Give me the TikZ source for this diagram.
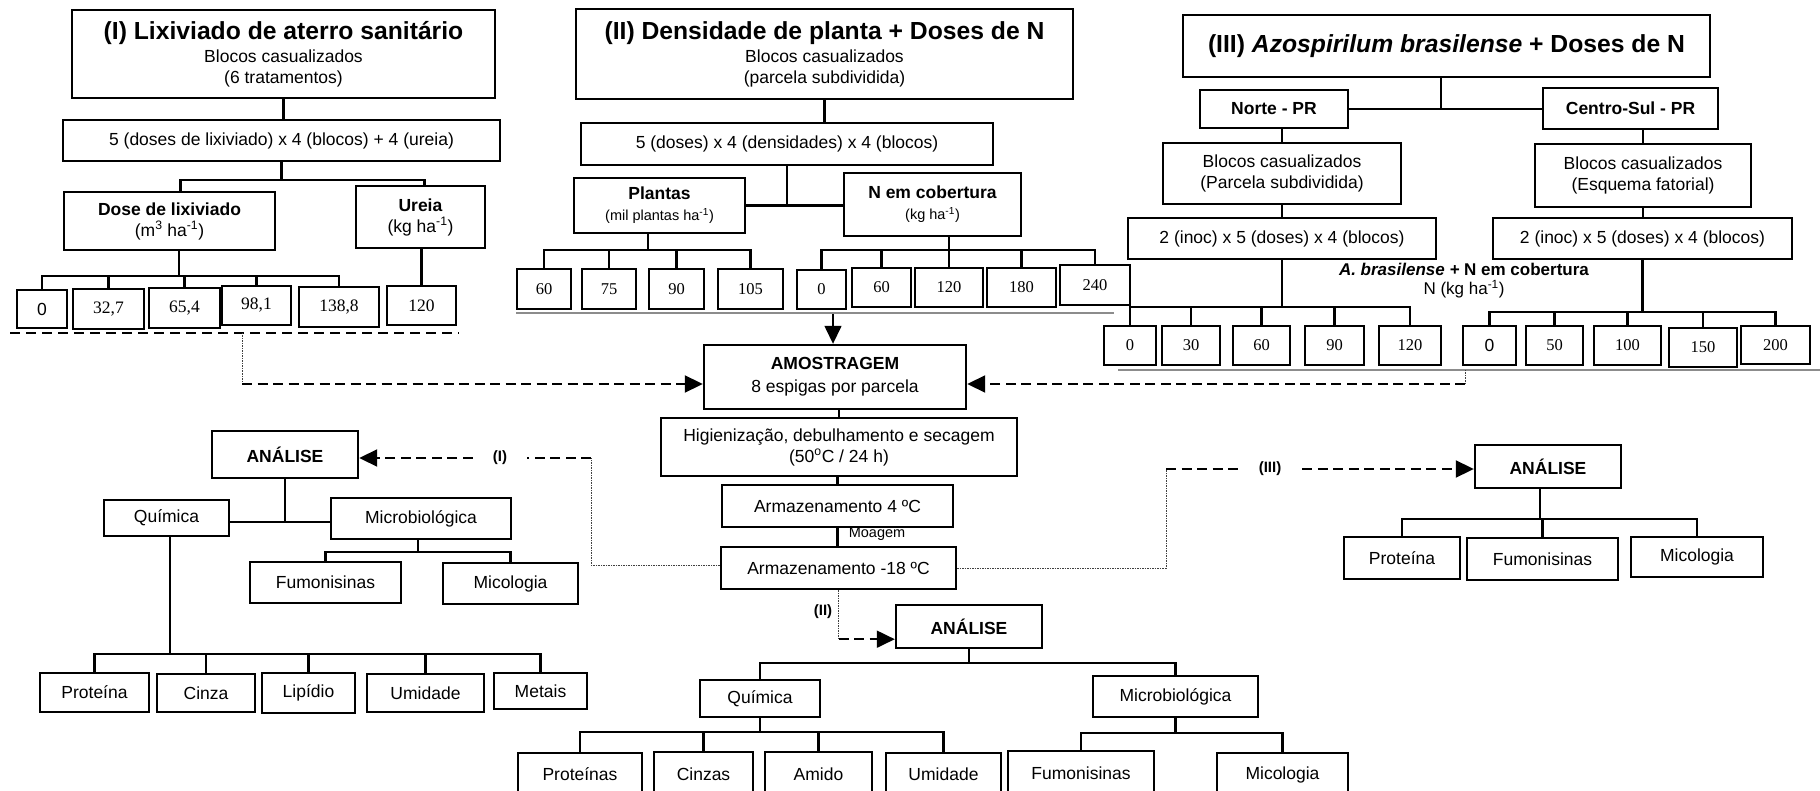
\documentclass[tikz,border=0pt]{standalone}
\usepackage{fontspec}
\setmainfont{Liberation Sans}
\newfontfamily\numserif{Liberation Serif}
\usetikzlibrary{arrows.meta}
\newcommand\bodyfont{\fontsize{17.5}{21}\selectfont}
\newcommand\titlefont{\fontsize{24.7}{28}\selectfont\bfseries}
\newcommand\smallfont{\fontsize{14.5}{17}\selectfont}
\newcommand\numfont{\numserif\fontsize{16.5}{20}\selectfont}
\newcommand\numfontI{\numserif\fontsize{17.5}{20}\selectfont}
\newcommand\hainv{ha\textsuperscript{-1}}
% box given by its corners: [style]{name}{x1}{y1}{x2}{y2}{text}
\newcommand\nodebox[7][]{%
  \pgfmathsetmacro\nbcx{(#3+#5)/2}%
  \pgfmathsetmacro\nbcy{(#4+#6)/2}%
  \pgfmathsetmacro\nbw{#5-#3}%
  \pgfmathsetmacro\nbh{#6-#4}%
  \node[box,minimum width=\nbw pt,minimum height=\nbh pt,#1] (#2) at (\nbcx,\nbcy) {#7};}
\begin{document}
\begin{tikzpicture}[x=1pt,y=-1pt,
  box/.style={draw,line width=2.4pt,inner sep=0pt,align=center,font=\bodyfont},
  leaf/.style={box,font=\numfont},
  leafI/.style={box,line width=2.6pt,font=\numfontI},
  link/.style={line width=2.1pt},
  dashl/.style={line width=1.9pt,dash pattern=on 10pt off 5.5pt},
  dasharr/.style={dashl,-{Triangle[length=18pt,width=17pt]}},
  dotl/.style={line width=1pt,black!75,dash pattern=on 1.5pt off 1pt},
  rule/.style={line width=1.8pt,black!45},
  lab/.style={font=\fontsize{15}{17}\selectfont\bfseries,inner sep=0pt}]
\useasboundingbox (0,0) rectangle (1820,791);
\fill[white] (0,0) rectangle (1820,791);
\clip (0,0) rectangle (1820,791);

% ---------- (I) leachate experiment ----------
\nodebox{tI}{72}{10}{495}{98}{{\titlefont (I) Lixiviado de aterro sanitário}\\[2pt] Blocos casualizados\\ (6 tratamentos)}
\nodebox{aI}{63}{120}{500}{161}{5 (doses de lixiviado) x 4 (blocos) + 4 (ureia)}
\nodebox{dose}{64}{192}{275}{250}{\textbf{Dose de lixiviado}\\ (m\textsuperscript{3} \hainv)}
\nodebox{ureia}{356}{186}{485}{248}{\textbf{Ureia}\\ (kg \hainv)}
\nodebox[leafI,font=\bodyfont]{l0}{17}{290}{67}{328}{0}
\nodebox[leafI]{l32}{73}{289}{144}{329}{32,7}
\nodebox[leafI]{l65}{149}{288}{220}{328}{65,4}
\nodebox[leafI]{l98}{222}{286}{291}{325}{98,1}
\nodebox[leafI]{l138}{299}{287}{379}{327}{138,8}
\nodebox[leafI]{l120}{387}{286}{456}{325}{120}

\draw[link] (tI.south) -- (tI.south |- aI.north);
\draw[link] (aI.south) -- ++(0,18) -| ([xshift=11pt]dose.north);
\draw[link] (aI.south) ++(0,18) -| ([xshift=4pt]ureia.north);
\foreach \nd in {l0,l32,l65,l98,l138}
  \draw[link] ([xshift=9.5pt]dose.south) -- ++(0,25) -| (\nd.north);
\draw[link] (l120.north |- ureia.south) -- (l120.north);
\coordinate (rI0) at (10,333);
\coordinate (rI1) at (459,333);
\draw[line width=2pt,dash pattern=on 10pt off 6pt] (rI0) -- (rI1);

% ---------- (II) plant density + N ----------
\nodebox{tII}{576}{9}{1073}{99}{{\titlefont (II) Densidade de planta + Doses de N}\\[2pt] Blocos casualizados\\ (parcela subdividida)}
\nodebox{bII}{581}{123}{993}{165}{5 (doses) x 4 (densidades) x 4 (blocos)}
\nodebox{plantas}{574}{178}{745}{233}{\textbf{Plantas}\\ {\smallfont (mil plantas \hainv)}}
\nodebox{ncob}{844}{173}{1021}{236}{\textbf{N em cobertura}\\ {\smallfont (kg \hainv)}}
\nodebox[leaf]{p60}{517}{269}{571}{309}{60}
\nodebox[leaf]{p75}{582}{269}{636}{309}{75}
\nodebox[leaf]{p90}{649}{269}{704}{309}{90}
\nodebox[leaf]{p105}{718}{269}{783}{309}{105}
\nodebox[leaf]{n0}{797}{270}{846}{309}{0}
\nodebox[leaf]{n60}{852}{268}{911}{307}{60}
\nodebox[leaf]{n120}{915}{268}{983}{307}{120}
\nodebox[leaf]{n180}{987}{268}{1056}{307}{180}
\nodebox[leaf]{n240}{1060}{265}{1130}{305}{240}

\draw[link] (tII.south) -- (tII.south |- bII.north);
\draw[link] (bII.south) -- (bII.south |- plantas.east);
\draw[link] (plantas.east) -- (plantas.east -| ncob.west);
\foreach \nd in {p60,p75,p90,p105}
  \draw[link] ([xshift=-11.5pt]plantas.south) -- ++(0,16) -| (\nd.north);
\foreach \nd in {n0,n60,n120,n180,n240}
  \draw[link] ([xshift=16.5pt]ncob.south) -- ++(0,13) -| (\nd.north);
\coordinate (rII0) at (516,313);
\coordinate (rII1) at (1114,313);
\draw[rule] (rII0) -- (rII1);

% ---------- (III) Azospirilum + N ----------
\nodebox{tIII}{1183}{15}{1710}{77}{\titlefont (III) \textit{Azospirilum brasilense} + Doses de N}
\nodebox{norte}{1200}{90}{1348}{128}{\textbf{Norte - PR}}
\nodebox{csul}{1543}{88}{1718}{129}{\textbf{Centro-Sul - PR}}
\nodebox{nbl}{1163}{143}{1401}{204}{Blocos casualizados\\ (Parcela subdividida)}
\nodebox{nin}{1128}{218}{1436}{259}{2 (inoc) x 5 (doses) x 4 (blocos)}
\nodebox{cbl}{1535}{144}{1751}{207}{Blocos casualizados\\ (Esquema fatorial)}
\nodebox{cin}{1493}{218}{1792}{259}{2 (inoc) x 5 (doses) x 4 (blocos)}
\node[font=\fontsize{17}{19}\selectfont,align=center,inner sep=0pt] (nlab) at (1464,281)
  {\textbf{\textit{A. brasilense +}} \textbf{N em cobertura}\\ N (kg \hainv)};
\nodebox[leaf]{a0}{1104}{326}{1156}{365}{0}
\nodebox[leaf]{a30}{1162}{326}{1220}{365}{30}
\nodebox[leaf]{a60}{1233}{326}{1290}{365}{60}
\nodebox[leaf]{a90}{1305}{326}{1364}{365}{90}
\nodebox[leaf]{a120}{1379}{326}{1441}{365}{120}
\nodebox[leaf,font=\bodyfont]{b0}{1463}{326}{1516}{365}{0}
\nodebox[leaf]{b50}{1526}{326}{1583}{365}{50}
\nodebox[leaf]{b100}{1594}{326}{1661}{365}{100}
\nodebox[leaf]{b150}{1669}{328}{1737}{367}{150}
\nodebox[leaf]{b200}{1741}{326}{1810}{364}{200}

\draw[link] ([xshift=-5.5pt]tIII.south) -- ++(0,32);
\draw[link] (norte.east) -- (norte.east -| csul.west);
\draw[link] (nbl.north |- norte.south) -- (nbl.north);
\draw[link] (nbl.south) -- (nin.north);
\draw[link] (cbl.north |- csul.south) -- (cbl.north);
\draw[link] (cbl.south) -- (cbl.south |- cin.north);
\foreach \nd in {a0,a30,a60,a90,a120}
  \draw[link] (nin.south) -- ++(0,47) -| (\nd.north);
\foreach \nd in {b0,b50,b100,b150,b200}
  \draw[link] (cin.south) -- ++(0,52) -| (\nd.north);
\coordinate (rIII0) at (1118,370);
\coordinate (rIII1) at (1820,370);
\draw[rule] (rIII0) -- (rIII1);

% ---------- sampling and storage ----------
\nodebox{amo}{704}{345}{966}{409}{\textbf{AMOSTRAGEM}\\[2pt] 8 espigas por parcela}
\nodebox{hig}{661}{418}{1017}{476}{Higienização, debulhamento e secagem\\ (50\textsuperscript{o}C / 24 h)}
\nodebox{a4}{722}{485}{953}{527}{Armazenamento 4 ºC}
\nodebox{a18}{721}{547}{956}{589}{Armazenamento -18 ºC}
\node[font=\smallfont,inner sep=0pt] (moag) at (877,534) {Moagem};
\draw[link] (hig.north |- amo.south) -- (hig.north);
\draw[link] (a4.north |- hig.south) -- (a4.north);
\draw[link] (a4.south) -- (a4.south |- a18.north);

\coordinate (amoL) at ([yshift=-7pt]amo.west);
\coordinate (amoR) at ([yshift=-7pt]amo.east);
\coordinate (sI) at (242,333);
\draw[dotl] (sI) -- (sI |- amoL);
\draw[dasharr] (sI |- amoL) -- (amoL);
\coordinate (sIII) at (1465,370);
\draw[dotl] (sIII) -- (sIII |- amoR);
\draw[dasharr] (sIII |- amoR) -- (amoR);
\coordinate (sII) at (833,314);
\draw[line width=1.5pt,-{Triangle[length=18pt,width=17pt]}] (sII) -- (sII |- amo.north);

% ---------- analyses (II) ----------
\nodebox{anaII}{896}{605}{1042}{648}{\textbf{ANÁLISE}}
\nodebox{quiB}{700}{680}{820}{717}{Química}
\nodebox{micB}{1093}{676}{1258}{717}{Microbiológica}
\nodebox{protB}{518}{753}{642}{796}{Proteínas}
\nodebox{cinB}{654}{752}{753}{796}{Cinzas}
\nodebox{amiB}{765}{752}{872}{796}{Amido}
\nodebox{umiB}{886}{753}{1001}{796}{Umidade}
\nodebox{fumB}{1008}{751}{1154}{796}{Fumonisinas}
\nodebox{micoB}{1217}{753}{1348}{796}{Micologia}
\draw[link] (anaII.south) -- ++(0,14) -| (quiB.north);
\draw[link] (anaII.south) ++(0,14) -| (micB.north);
\foreach \nd in {protB,cinB,amiB,umiB}
  \draw[link] (quiB.south) -- ++(0,14) -| (\nd.north);
\foreach \nd in {fumB,micoB}
  \draw[link] (micB.south) -- ++(0,15) -| (\nd.north);

% ---------- analyses (I) ----------
\nodebox{anaI}{212}{431}{358}{478}{\textbf{ANÁLISE}}
\nodebox{quiL}{104}{500}{229}{536}{Química}
\nodebox{micL}{331}{498}{511}{539}{Microbiológica}
\nodebox{fumL}{250}{562}{401}{603}{Fumonisinas}
\nodebox{micoL}{443}{563}{578}{604}{Micologia}
\nodebox{protL}{40}{673}{149}{712}{Proteína}
\nodebox{cinL}{157}{674}{255}{712}{Cinza}
\nodebox{lipL}{262}{673}{355}{713}{Lipídio}
\nodebox{umiL}{367}{674}{484}{712}{Umidade}
\nodebox{metL}{494}{673}{587}{709}{Metais}
\draw[link] (anaI.south) -- ++(0,43) coordinate (jL);
\draw[link] (quiL.east |- jL) -- (micL.west |- jL);
\foreach \nd in {fumL,micoL}
  \draw[link] ([xshift=-3pt]micL.south) -- ++(0,12) -| (\nd.north);
\foreach \nd in {protL,cinL,lipL,umiL,metL}
  \draw[link] ([xshift=3.5pt]quiL.south) -- ++(0,117) -| (\nd.north);

% ---------- analyses (III) ----------
\nodebox{anaIII}{1475}{445}{1621}{488}{\textbf{ANÁLISE}}
\nodebox{protR}{1344}{537}{1460}{579}{Proteína}
\nodebox{fumR}{1467}{538}{1618}{580}{Fumonisinas}
\nodebox{micR}{1631}{537}{1763}{577}{Micologia}
\foreach \nd in {protR,fumR,micR}
  \draw[link] ([xshift=-8pt]anaIII.south) -- ++(0,30) -| (\nd.north);

% ---------- routes from storage to the analyses ----------
\node[lab,inner xsep=20pt] (labI) at (500,458) {(I)};
\coordinate (cI) at (591,458);
\draw[dotl] ([yshift=3pt]a18.west) -| (cI);
\draw[dashl] (cI) -- (labI.east);
\draw[dasharr] (labI.west) -- (labI.west -| anaI.east);

\node[lab,inner xsep=21pt] (labIII) at (1270,469) {(III)};
\coordinate (cIII) at (1166,469);
\draw[dotl] (a18.east) -| (cIII);
\draw[dashl] (cIII) -- (labIII.west);
\draw[dasharr] (labIII.east) -- (labIII.east -| anaIII.west);

\node[lab] (labII) at (823,612) {(II)};
\coordinate (cII) at ([yshift=-49pt]a18.south);
\draw[dotl] (a18.south) -- (cII);
\draw[dasharr] (cII) -- (cII -| anaII.west);
\end{tikzpicture}
\end{document}
